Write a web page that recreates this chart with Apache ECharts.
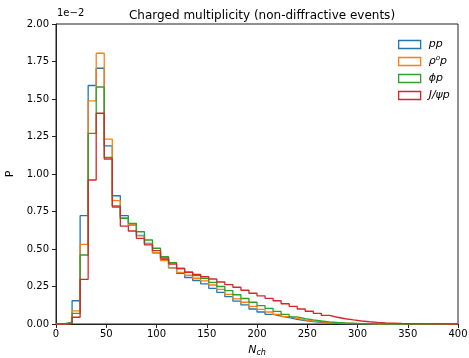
<!DOCTYPE html>
<html>
<head>
<meta charset="utf-8">
<script src="https://cdn.jsdelivr.net/npm/echarts@6/dist/echarts.min.js"></script>
<style>
  html, body { margin: 0; padding: 0; background: #fff; }
  #chart { width: 469px; height: 358px; }
</style>
</head>
<body>
<div id="chart"></div>
<script>
// bin edges of N_ch (8 wide), 0..400
var binEdges = [0, 8, 16, 24, 32, 40, 48, 56, 64, 72, 80, 88, 96, 104, 112, 120, 128, 136, 144, 152,
  160, 168, 176, 184, 192, 200, 208, 216, 224, 232, 240, 248, 256, 264, 272, 280, 288, 296, 304, 312,
  320, 328, 336, 344, 352, 360, 368, 376, 384, 392, 400];

// probability per bin, in units of 1e-2
var ppValues = [0, 0.012, 0.155, 0.722, 1.59, 1.705, 1.187, 0.855, 0.722, 0.66,
  0.59, 0.538, 0.475, 0.431, 0.375, 0.338, 0.31, 0.29, 0.267, 0.238,
  0.211, 0.182, 0.152, 0.127, 0.1, 0.08, 0.064, 0.053, 0.042, 0.031,
  0.022, 0.016, 0.011, 0.008, 0.005, 0.003, 0.002, 0.001, 0, 0,
  0, 0, 0, 0, 0, 0, 0, 0, 0, 0];
var rhoValues = [0, 0.005, 0.087, 0.531, 1.487, 1.805, 1.233, 0.822, 0.705, 0.66,
  0.589, 0.535, 0.475, 0.422, 0.375, 0.344, 0.325, 0.305, 0.287, 0.26,
  0.231, 0.198, 0.168, 0.145, 0.118, 0.097, 0.08, 0.064, 0.049, 0.038,
  0.028, 0.02, 0.015, 0.01, 0.007, 0.005, 0.003, 0.002, 0.001, 0,
  0, 0, 0, 0, 0, 0, 0, 0, 0, 0];
var phiValues = [0, 0.005, 0.071, 0.46, 1.271, 1.58, 1.111, 0.787, 0.705, 0.671,
  0.615, 0.56, 0.505, 0.449, 0.409, 0.37, 0.345, 0.322, 0.304, 0.278,
  0.25, 0.222, 0.195, 0.17, 0.145, 0.122, 0.104, 0.084, 0.064, 0.048,
  0.036, 0.027, 0.02, 0.014, 0.01, 0.007, 0.005, 0.003, 0.002, 0.001,
  0, 0, 0, 0, 0, 0, 0, 0, 0, 0];
var jpsiValues = [0, 0.003, 0.045, 0.298, 0.96, 1.405, 1.10, 0.78, 0.653, 0.62,
  0.571, 0.527, 0.489, 0.44, 0.40, 0.37, 0.345, 0.33, 0.315, 0.30,
  0.28, 0.262, 0.245, 0.225, 0.205, 0.188, 0.171, 0.155, 0.135, 0.118,
  0.1, 0.085, 0.071, 0.057, 0.045, 0.035, 0.027, 0.02, 0.015, 0.011,
  0.008, 0.006, 0.004, 0.003, 0.002, 0.0015, 0.001, 0.0005, 0, 0];

var seriesNames = ['pp', 'ρ⁰p', 'ϕp', 'J/ψp'];
var colors = ['#1f77b4', '#ff7f0e', '#2ca02c', '#d62728'];

// outline of a step histogram: start at baseline, one point per bin, back to baseline
function stepData(values) {
  var pts = [[binEdges[0], 0]];
  for (var i = 0; i < values.length; i++) {
    pts.push([binEdges[i], values[i]]);
  }
  pts.push([binEdges[binEdges.length - 1], 0]);
  return pts;
}

var allValues = [ppValues, rhoValues, phiValues, jpsiValues];

var chart = echarts.init(document.getElementById('chart'), null, { renderer: 'canvas' });
chart.setOption({
  animation: false,
  textStyle: { fontFamily: 'DejaVu Sans' },
  title: {
    text: 'Charged multiplicity (non-diffractive events)',
    left: 257,
    textAlign: 'center',
    top: 5,
    textStyle: { fontFamily: 'DejaVu Sans', fontSize: 12, fontWeight: 'normal', color: '#000' }
  },
  legend: {
    orient: 'vertical',
    left: 393,
    top: 34,
    itemWidth: 22,
    itemHeight: 8,
    itemGap: 6,
    textStyle: { fontFamily: 'DejaVu Sans', fontSize: 11, fontStyle: 'italic', color: '#000', padding: [0, 0, 0, 3] },
    data: seriesNames.map(function (n, i) {
      return { name: n, icon: 'rect', itemStyle: { color: '#fff', borderColor: colors[i], borderWidth: 1.3 } };
    })
  },
  grid: {
    left: 56, right: 11, top: 24, bottom: 34,
    containLabel: false,
    outerBoundsMode: 'none',
    show: true, borderColor: '#222', borderWidth: 1, backgroundColor: '#fff'
  },
  xAxis: {
    type: 'value',
    min: 0, max: 400, interval: 50,
    name: '{n|N}{s|ch}',
    nameLocation: 'middle',
    nameGap: 19,
    nameTextStyle: {
      rich: {
        n: { fontFamily: 'DejaVu Sans', fontSize: 11, fontStyle: 'italic', color: '#000' },
        s: { fontFamily: 'DejaVu Sans', fontSize: 8, fontStyle: 'italic', color: '#000', padding: [6, 0, 0, 0] }
      }
    },
    axisLine: { show: true, lineStyle: { color: '#222', width: 1 } },
    axisTick: { show: true, inside: false, length: 4, lineStyle: { color: '#222' } },
    axisLabel: { fontFamily: 'DejaVu Sans', fontSize: 10, color: '#000', margin: 5 },
    splitLine: { show: false }
  },
  yAxis: {
    type: 'value',
    min: 0, max: 2.0, interval: 0.25,
    name: 'P',
    nameLocation: 'middle',
    nameGap: 40,
    nameTextStyle: { fontFamily: 'DejaVu Sans', fontSize: 11, color: '#000' },
    axisLine: { show: true, lineStyle: { color: '#222', width: 1 } },
    axisTick: { show: true, inside: false, length: 4, lineStyle: { color: '#222' } },
    axisLabel: {
      fontFamily: 'DejaVu Sans', fontSize: 10, color: '#000', margin: 7,
      formatter: function (v) { return v.toFixed(2); }
    },
    splitLine: { show: false }
  },
  graphic: [{
    type: 'text',
    left: 57,
    top: 8,
    style: { text: '1e\u22122', fontFamily: 'DejaVu Sans', fontSize: 10, fill: '#000' }
  }],
  series: allValues.map(function (vals, i) {
    return {
      name: seriesNames[i],
      type: 'line',
      step: 'end',
      data: stepData(vals),
      showSymbol: false,
      color: colors[i],
      lineStyle: { color: colors[i], width: 1.3 },
      itemStyle: { color: colors[i] },
      z: 2 + i
    };
  })
});
</script>
</body>
</html>
